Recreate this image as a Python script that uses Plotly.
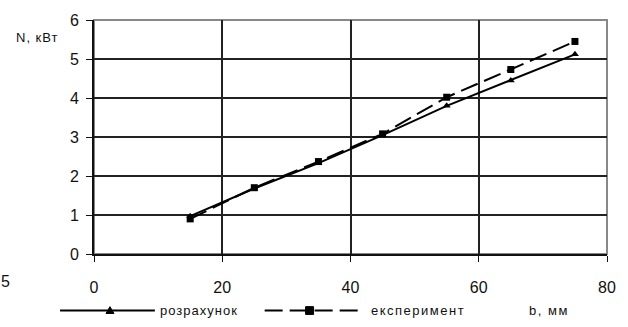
import plotly.graph_objects as go

b_mm = [15, 25, 35, 45, 55, 65, 75]
rozrakhunok = [0.97, 1.68, 2.33, 3.05, 3.8, 4.45, 5.12]
eksperyment = [0.9, 1.7, 2.37, 3.08, 4.02, 4.73, 5.45]
x_ticks = [0, 20, 40, 60, 80]
y_ticks = [0, 1, 2, 3, 4, 5, 6]
series_names = ["розрахунок", "експеримент"]

FONT = "Liberation Sans, Arial, sans-serif"
L, R, T, B, W, H = 94, 20, 14, 73, 628, 327
PW, PH = W - L - R, H - T - B


def px(x):
    return (x - L) / PW


def py(y):
    return (H - B - y) / PH


fig = go.Figure()
fig.add_trace(go.Scatter(
    x=b_mm, y=rozrakhunok, name=series_names[0], mode="lines+markers",
    line=dict(color="#000", width=2),
    marker=dict(symbol="triangle-up", size=7, color="#000"),
    showlegend=False,
))
fig.add_trace(go.Scatter(
    x=b_mm, y=eksperyment, name=series_names[1], mode="lines+markers",
    line=dict(color="#000", width=2, dash="18px,7px"),
    marker=dict(symbol="square", size=7, color="#000"),
    showlegend=False,
))

ly = 312
shapes = [
    dict(type="rect", xref="paper", yref="paper", x0=0, x1=1, y0=0, y1=1,
         line=dict(color="#888", width=2), layer="below"),
    dict(type="line", xref="paper", yref="paper", x0=px(60), x1=px(155),
         y0=py(ly), y1=py(ly), line=dict(color="#000", width=2)),
    dict(type="path", xref="paper", yref="paper",
         path=f"M {px(106)},{py(ly+3)} L {px(114)},{py(ly+3)} L {px(110)},{py(ly-4)} Z",
         fillcolor="#000", line=dict(color="#000", width=1)),
    dict(type="line", xref="paper", yref="paper", x0=px(265), x1=px(365),
         y0=py(ly), y1=py(ly), line=dict(color="#000", width=2, dash="18px,7px")),
    dict(type="rect", xref="paper", yref="paper", x0=px(306), x1=px(314),
         y0=py(ly+4), y1=py(ly-4), fillcolor="#000", line=dict(color="#000", width=1)),
]


def spaced(t, s):
    return f'<span style="letter-spacing:{s}px">{t}</span>'


fig.update_layout(
    width=W, height=H,
    margin=dict(l=L, r=R, t=T, b=B),
    paper_bgcolor="white", plot_bgcolor="white",
    font=dict(family=FONT, size=12, color="#111"),
    showlegend=False,
    xaxis=dict(range=[0, 80], tickvals=x_ticks, showgrid=True, gridcolor="#222",
               gridwidth=1.5, showline=True, linecolor="#111", linewidth=2,
               ticks="outside", ticklen=6, tickcolor="#111", zeroline=False,
               ticklabelstandoff=12, tickfont=dict(size=16), fixedrange=True),
    yaxis=dict(range=[0, 6], tickvals=y_ticks, showgrid=True, gridcolor="#222",
               gridwidth=1.5, showline=True, linecolor="#111", linewidth=2,
               ticks="outside", ticklen=6, tickcolor="#111", zeroline=False,
               ticklabelstandoff=4, tickfont=dict(size=16), fixedrange=True),
    shapes=shapes,
    annotations=[
        dict(text=spaced("N, кВт", 1), xref="paper", yref="paper", x=px(14), y=py(32),
             xanchor="left", yanchor="middle", showarrow=False,
             font=dict(family=FONT, size=13, color="#111")),
        dict(text=spaced(series_names[0], 1), xref="paper", yref="paper", x=px(158), y=py(ly),
             xanchor="left", yanchor="middle", showarrow=False,
             font=dict(family=FONT, size=13, color="#111")),
        dict(text=spaced(series_names[1], 1.5), xref="paper", yref="paper", x=px(370), y=py(ly),
             xanchor="left", yanchor="middle", showarrow=False,
             font=dict(family=FONT, size=13, color="#111")),
        dict(text=spaced("b, мм", 1.5), xref="paper", yref="paper", x=px(550), y=py(ly),
             xanchor="center", yanchor="middle", showarrow=False,
             font=dict(family=FONT, size=13, color="#111")),
        dict(text="5", xref="paper", yref="paper", x=px(5), y=py(282),
             xanchor="center", yanchor="middle", showarrow=False,
             font=dict(family=FONT, size=16, color="#111")),
    ],
)

fig.write_html("out.html")
